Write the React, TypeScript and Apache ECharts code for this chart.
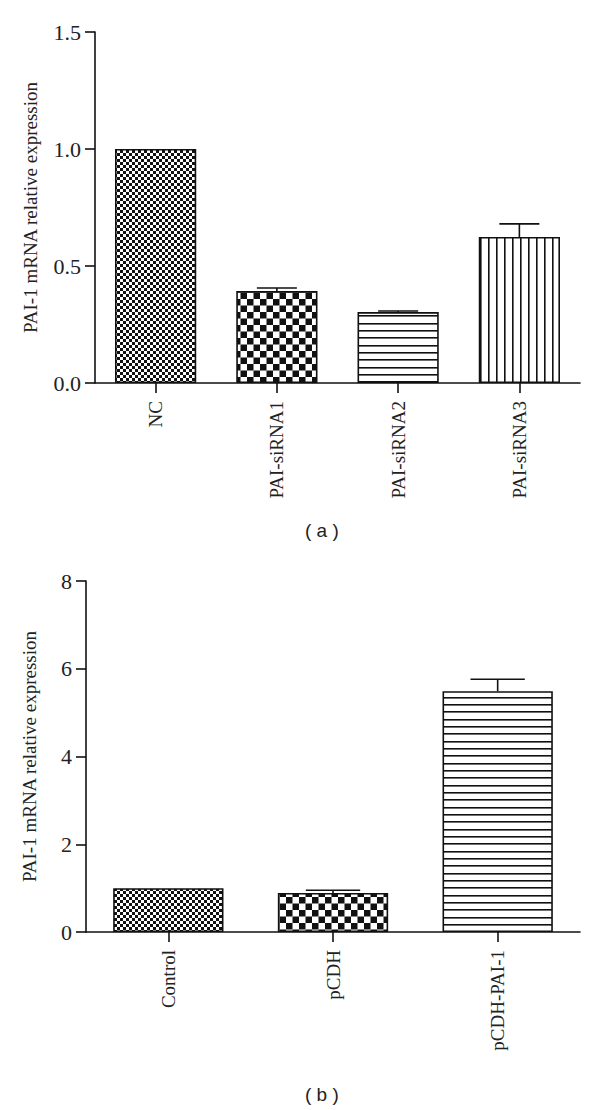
import React, { useEffect, useRef } from "react";
import * as echarts from "echarts";

const catsA = ["NC", "PAI-siRNA1", "PAI-siRNA2", "PAI-siRNA3"];
const meanA = [1.0, 0.393, 0.303, 0.624];
const errA = [0.0, 0.013, 0.005, 0.056];
const patA = ["fine", "coarse", "hlines", "vlines"];

const catsB = ["Control", "pCDH", "pCDH-PAI-1"];
const meanB = [1.0, 0.89, 5.49];
const errB = [0.0, 0.06, 0.27];
const patB = ["fine", "coarse", "hlines"];

const SERIF = "'Liberation Serif', 'Times New Roman', serif";
const SANS = "'Liberation Sans', Arial, sans-serif";

function makePattern(kind: string) {
  const c = document.createElement("canvas");
  let w = 6, h = 6;
  if (kind === "fine") { w = 6; h = 6; }
  if (kind === "coarse") { w = 13; h = 13; }
  if (kind === "hlines") { w = 8; h = 22; }
  if (kind === "vlines") { w = 24; h = 8; }
  c.width = w; c.height = h;
  const ctx = c.getContext("2d")!;
  ctx.fillStyle = "#fff";
  ctx.fillRect(0, 0, w, h);
  ctx.fillStyle = "#111";
  if (kind === "fine") {
    ctx.fillRect(0, 0, 3, 3);
    ctx.fillRect(3, 3, 3, 3);
  } else if (kind === "coarse") {
    ctx.fillRect(0, 0, 6.5, 6.5);
    ctx.fillRect(6.5, 6.5, 6.5, 6.5);
  } else if (kind === "hlines") {
    for (let i = 0; i < 3; i++) ctx.fillRect(0, Math.round(i * 7.33), w, 1.6);
  } else if (kind === "vlines") {
    for (let i = 0; i < 3; i++) ctx.fillRect(i * 8, 0, 1.6, h);
  }
  return { image: c.toDataURL(), repeat: "repeat", imageWidth: w, imageHeight: h } as any;
}

function errRender() {
  return (params: any, api: any) => {
    const x = api.value(0);
    const m = api.value(1);
    const e = api.value(2);
    if (!e) return null;
    const p0 = api.coord([x, m]);
    const p1 = api.coord([x, m + e]);
    const half = api.size([1, 0])[0] * 0.165;
    const st = { stroke: "#111", lineWidth: 1.6 };
    return {
      type: "group",
      children: [
        { type: "line", shape: { x1: p0[0], y1: p0[1], x2: p1[0], y2: p1[1] }, style: st },
        { type: "line", shape: { x1: p0[0] - half, y1: p1[1], x2: p0[0] + half, y2: p1[1] }, style: st },
      ],
    };
  };
}

export default function App() {
  const ref = useRef<HTMLDivElement>(null);
  useEffect(() => {
    const chart = echarts.init(ref.current!, null, { renderer: "svg" });
    const axisLine = { show: true, lineStyle: { color: "#111", width: 1.6 } };
    const tick = { show: true, length: 10, lineStyle: { color: "#111", width: 1.6 } };
    const yLabel = { color: "#222", fontFamily: SERIF, fontSize: 22, margin: 14 };
    const xLabel = { color: "#222", fontFamily: SERIF, fontSize: 19, rotate: 90, margin: 18, interval: 0 };
    const nameStyle = { color: "#222", fontFamily: SERIF, fontSize: 19 };
    chart.setOption({
      animation: false,
      backgroundColor: "#fff",
      grid: [
        { left: 95, top: 32, width: 485, height: 351 },
        { left: 86, top: 581, width: 494, height: 351 },
      ],
      xAxis: [
        { type: "category", gridIndex: 0, data: catsA, axisLine, axisTick: { ...tick, alignWithLabel: true }, axisLabel: xLabel },
        { type: "category", gridIndex: 1, data: catsB, axisLine, axisTick: { ...tick, alignWithLabel: true }, axisLabel: xLabel },
      ],
      yAxis: [
        {
          type: "value", gridIndex: 0, min: 0, max: 1.5, interval: 0.5,
          axisLine, axisTick: tick, splitLine: { show: false },
          axisLabel: { ...yLabel, formatter: (v: number) => v.toFixed(1) },
          name: "PAI-1 mRNA relative expression", nameLocation: "middle", nameGap: 55, nameTextStyle: nameStyle,
        },
        {
          type: "value", gridIndex: 1, min: 0, max: 8, interval: 2,
          axisLine, axisTick: tick, splitLine: { show: false },
          axisLabel: yLabel,
          name: "PAI-1 mRNA relative expression", nameLocation: "middle", nameGap: 47, nameTextStyle: nameStyle,
        },
      ],
      series: [
        {
          type: "bar", xAxisIndex: 0, yAxisIndex: 0, barWidth: "67%",
          data: meanA.map((v, i) => ({ value: v, itemStyle: { color: makePattern(patA[i]), borderColor: "#111", borderWidth: 1.6 } })),
        },
        {
          type: "bar", xAxisIndex: 1, yAxisIndex: 1, barWidth: "67%",
          data: meanB.map((v, i) => ({ value: v, itemStyle: { color: makePattern(patB[i]), borderColor: "#111", borderWidth: 1.6 } })),
        },
        {
          type: "custom", xAxisIndex: 0, yAxisIndex: 0, z: 5,
          renderItem: errRender(),
          data: meanA.map((v, i) => [i, v, errA[i]]),
        },
        {
          type: "custom", xAxisIndex: 1, yAxisIndex: 1, z: 5,
          renderItem: errRender(),
          data: meanB.map((v, i) => [i, v, errB[i]]),
        },
      ],
      graphic: [
        { type: "text", left: 305, top: 521, style: { text: "( a )", fontFamily: SANS, fontSize: 19, fill: "#222" } },
        { type: "text", left: 305, top: 1085, style: { text: "( b )", fontFamily: SANS, fontSize: 19, fill: "#222" } },
      ],
    });
    return () => chart.dispose();
  }, []);
  return <div ref={ref} style={{ position: "absolute", left: 0, top: 0, width: 600, height: 1110 }} />;
}
